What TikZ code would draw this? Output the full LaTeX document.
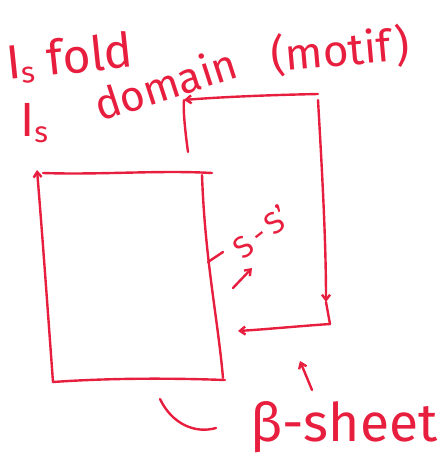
\documentclass[tikz,border=0pt]{standalone}
\usepackage{fontspec}
\setmainfont{Fira Sans}
\usetikzlibrary{arrows.meta}
\definecolor{ink}{RGB}{232,30,62}
\tikzset{
  pen/.style={draw=ink, line width=1.8pt, line cap=round, line join=round},
  tip/.style={-{Straight Barb[length=4pt,width=6pt]}},
  hand/.style={text=ink, inner sep=0pt, anchor=base west},
}
\newcommand{\fs}[1]{\fontsize{#1}{#1}\selectfont}
\begin{document}
\begin{tikzpicture}[x=0.75pt,y=-0.75pt]
\useasboundingbox (0,0) rectangle (446,456);

% heading lines
\node[hand, font=\fs{36pt}, rotate=6] (l1) at (8,80) {I\raisebox{-4pt}{\fs{22pt}s} fold};
\node[hand, font=\fs{36pt}] (l2i) at (20,137) {I\raisebox{-4pt}{\fs{22pt}s}};
\node[hand, font=\fs{32pt}, rotate=18] (dom) at (100,122) {domain};
\node[hand, font=\fs{33pt}, rotate=5] (mot) at (272,72) {(motif)};

% left strand box
\coordinate (a1) at (53,382);
\coordinate (a2) at (37,170);
\coordinate (a3) at (43,173);
\coordinate (a4) at (212,173);
\coordinate (a5) at (202,175);
\coordinate (a6) at (223,378);
\coordinate (a7) at (225,380);
\draw[pen, tip] (a1) .. controls (47,300) and (42,230) .. (a2);
\draw[pen] (a3) .. controls (100,175) and (160,170) .. (a4);
\draw[pen] (a5) .. controls (205,260) and (218,320) .. (a6);
\draw[pen] (a1) .. controls (110,378) and (170,378) .. (a7);

% right strand box
\coordinate (b1) at (188,152);
\coordinate (b2) at (184,100);
\coordinate (b3) at (318,94);
\coordinate (b4) at (318,100);
\coordinate (b5) at (326,302);
\coordinate (b6) at (330,324);
\coordinate (b7) at (238,331);
\draw[pen] (b1) .. controls (185,130) and (183,110) .. (b2);
\draw[pen, tip] (b3) .. controls (270,95) and (220,97) .. (b2);
\draw[pen, tip] (b4) .. controls (322,170) and (326,240) .. (b5);
\draw[pen] (b5) -- (b6);
\draw[pen, tip] (b6) .. controls (300,326) and (270,329) .. (b7);

% disulfide link
\coordinate (t1) at (208,262);
\coordinate (t2) at (223,252);
\draw[pen] (t1) -- (t2);
\node[text=ink, font=\fs{23pt}, rotate=38, inner sep=0pt] (ss) at (261,232) {S\,-\,S'};
\coordinate (c1) at (233,288);
\coordinate (c2) at (252,268);
\draw[pen, tip] (c1) -- (c2);

% sheet label
\coordinate (d1) at (312,390);
\coordinate (d2) at (300,361);
\draw[pen, tip] (d1) -- (d2);
\coordinate (h1) at (160,399);
\coordinate (h2) at (216,428);
\draw[pen] (h1) .. controls (172,424) and (195,434) .. (h2);
\node[hand, font=\fs{40pt}] (beta) at (250,441) {β-sheet};
\end{tikzpicture}
\end{document}
